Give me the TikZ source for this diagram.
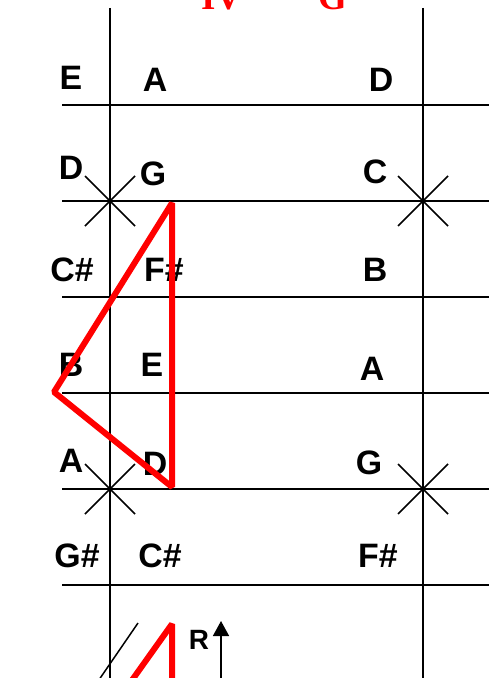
\documentclass[tikz,border=0pt]{standalone}
\usepackage{fontspec}
\setmainfont{Liberation Serif}
\setsansfont{Liberation Sans}
\usepackage{tikz}
\usetikzlibrary{arrows.meta}
\tikzset{every picture/.append style={line width=1.5bp}}

\begin{document}
\begin{tikzpicture}[x=1bp, y=-1bp,
    note/.style={font=\sffamily\bfseries\fontsize{34}{34}\selectfont, inner sep=0pt},
    title/.style={font=\rmfamily\bfseries\fontsize{37}{37}\selectfont, text=red, inner sep=0pt, anchor=base},
    chord/.style={red, line width=6bp, line join=bevel}]
    \useasboundingbox (0,0) rectangle (489,678);
    \clip (0,0) rectangle (489,678);
    \node[title] (deg) at (222,10) {IV};
    \node[title] (key) at (333,10) {G};
    \draw (110,8) -- (110,690);
    \draw (423,8) -- (423,690);
    \foreach \y in {105,201,297,393,489,585}
        \draw (62,\y) -- (495,\y);
    \foreach \n/\x/\y in {a/110/201, b/423/201, c/110/489, d/423/489} {
        \coordinate (x\n) at (\x,\y);
        \draw (x\n) ++(-25,-25) -- ++(50,50) (x\n) ++(-25,25) -- ++(50,-50);
    }
    \foreach \t/\x/\y [count=\i] in {E/71/78, D/71/168, C\#/72/270, B/71/365, A/71/461, G\#/77/556}
        \node[note] (o\i) at (\x,\y) {\t};
    \foreach \t/\x/\y [count=\i] in {A/155/80, G/153/174, F\#/164/270, E/152/365, D/155/464, C\#/160/556}
        \node[note] (m\i) at (\x,\y) {\t};
    \foreach \t/\x/\y [count=\i] in {D/381/80, C/375/172, B/375/270, A/372/369, G/369/463, F\#/378/556}
        \node[note] (r\i) at (\x,\y) {\t};
    \coordinate (top) at (172,203);
    \coordinate (left) at (54,392);
    \coordinate (low) at (172,487);
    \draw[chord] (top) -- (left) -- (low) -- cycle;
    \coordinate (peak) at (172,624);
    \draw[chord] (125,690) -- (peak) -- (172,690);
    \draw (138,623) -- (92,690);
    \node[font=\sffamily\bfseries\fontsize{28}{28}\selectfont, inner sep=0pt] (rl) at (199,640) {R};
    \coordinate (foot) at (221,690);
    \coordinate (tip) at (221,621);
    \draw[-{Triangle[length=15bp,width=16bp]}] (foot) -- (tip);
\end{tikzpicture}
\end{document}
